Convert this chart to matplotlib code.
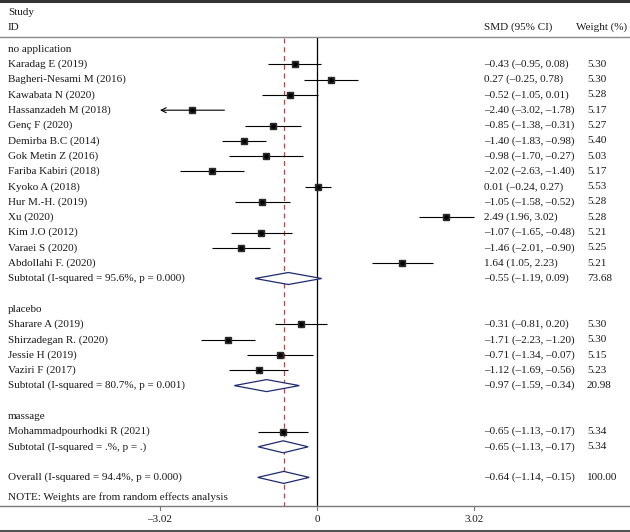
import matplotlib
matplotlib.use("Agg")
import matplotlib.pyplot as plt
from matplotlib.patches import Polygon

plt.rcParams['font.family'] = ['Liberation Serif', 'DejaVu Serif']

# ---------------- data ----------------
groups = ["no application", "placebo", "massage"]

studies_noapp = ["Karadag E (2019)", "Bagheri-Nesami M (2016)", "Kawabata N (2020)",
                 "Hassanzadeh M (2018)", "Genç F (2020)", "Demirba B.C (2014)",
                 "Gok Metin Z (2016)", "Fariba Kabiri (2018)", "Kyoko A (2018)",
                 "Hur M.-H. (2019)", "Xu (2020)", "Kim J.O (2012)", "Varaei S (2020)",
                 "Abdollahi F. (2020)"]
est_noapp = [-0.43, 0.27, -0.52, -2.40, -0.85, -1.40, -0.98, -2.02, 0.01, -1.05, 2.49, -1.07, -1.46, 1.64]
lo_noapp = [-0.95, -0.25, -1.05, -3.02, -1.38, -1.83, -1.70, -2.63, -0.24, -1.58, 1.96, -1.65, -2.01, 1.05]
hi_noapp = [0.08, 0.78, 0.01, -1.78, -0.31, -0.98, -0.27, -1.40, 0.27, -0.52, 3.02, -0.48, -0.90, 2.23]
w_noapp = [5.30, 5.30, 5.28, 5.17, 5.27, 5.40, 5.03, 5.17, 5.53, 5.28, 5.28, 5.21, 5.25, 5.21]

studies_placebo = ["Sharare A (2019)", "Shirzadegan R. (2020)", "Jessie H (2019)", "Vaziri F (2017)"]
est_placebo = [-0.31, -1.71, -0.71, -1.12]
lo_placebo = [-0.81, -2.23, -1.34, -1.69]
hi_placebo = [0.20, -1.20, -0.07, -0.56]
w_placebo = [5.30, 5.30, 5.15, 5.23]

studies_massage = ["Mohammadpourhodki R (2021)"]
est_massage = [-0.65]
lo_massage = [-1.13]
hi_massage = [-0.17]
w_massage = [5.34]

sub_labels = ["Subtotal (I-squared = 95.6%, p = 0.000)",
              "Subtotal (I-squared = 80.7%, p = 0.001)",
              "Subtotal (I-squared = .%, p = .)"]
sub_est = [-0.55, -0.97, -0.65]
sub_lo = [-1.19, -1.59, -1.13]
sub_hi = [0.09, -0.34, -0.17]
sub_w = [73.68, 20.98, 5.34]

overall_label = "Overall (I-squared = 94.4%, p = 0.000)"
overall_est, overall_lo, overall_hi, overall_w = -0.64, -1.14, -0.15, 100.00

note = "NOTE: Weights are from random effects analysis"
ticks = [-3.02, 0, 3.02]

# ---------------- layout ----------------
W, H = 630, 532
X0, PPU = 317, 52.0
fig = plt.figure(figsize=(W / 100, H / 100), dpi=100)
ax = fig.add_axes([0, 0, 1, 1])
ax.set_xlim(-X0 / PPU, (W - X0) / PPU)
ax.set_ylim(H, 0)
ax.axis('off')


def px(xp):
    return (xp - X0) / PPU


TXT = '#1a1a1a'
FS = 8.0
LEFT, SMDX, WX = px(8), px(484), px(587)
ROW0, DY = 49, 15.3


def fmt(v):
    s = f"{abs(v):.2f}"
    return ("–" + s) if v < 0 else s


def ci_text(e, l, h):
    return f"{fmt(e)} ({fmt(l)}, {fmt(h)})"


def rowy(k):
    return ROW0 + DY * k


# header
ax.text(LEFT, 12.5, "Study", fontsize=FS, color=TXT, va='center')
ax.text(LEFT, 27.5, "ID", fontsize=FS, color=TXT, va='center')
ax.text(SMDX, 27.5, "SMD (95% CI)", fontsize=FS, color=TXT, va='center')
ax.text(px(576), 27.5, "Weight (%)", fontsize=FS, color=TXT, va='center')
ax.axhline(1, color='#333333', lw=2.2)
ax.axhline(37, color='#8a8a8a', lw=1.0)
ax.axhline(506, color='#7a7a7a', lw=1.0)
ax.axhline(530.5, color='#555555', lw=2.2)

DIA = '#1f2b6e'


def study_row(y, name, e, l, h, w):
    ax.text(LEFT, y, name, fontsize=FS, color=TXT, va='center')
    if l <= ticks[0]:
        ax.annotate('', xy=(ticks[0], y), xytext=(h, y),
                    arrowprops=dict(arrowstyle='->', lw=0.8, color='black',
                                    mutation_scale=9, shrinkA=0, shrinkB=0))
    else:
        ax.plot([l, h], [y, y], color='black', lw=0.8, solid_capstyle='butt')
    ax.plot([e], [y], marker='s', ms=4.8 * (w / 5.3) ** 0.5, color='#2a2a2a', mec='#2a2a2a')
    ax.plot([e], [y], marker='o', ms=2.2, color='black')
    ax.text(SMDX, y, ci_text(e, l, h), fontsize=FS, color=TXT, va='center')
    ax.text(WX, y, f"{w:.2f}", fontsize=FS, color=TXT, va='center')


def diamond_row(y, name, e, l, h, w):
    ax.text(LEFT, y, name, fontsize=FS, color=TXT, va='center')
    ax.add_patch(Polygon([(l, y), (e, y - 6), (h, y), (e, y + 6)], closed=True,
                         facecolor='white', edgecolor=DIA, lw=0.9, zorder=3))
    ax.text(SMDX, y, ci_text(e, l, h), fontsize=FS, color=TXT, va='center')
    ax.text(WX, y, f"{w:.2f}", fontsize=FS, color=TXT, va='center')


# vertical reference lines
ax.plot([0, 0], [38, 506], color='black', lw=0.9, zorder=1)
ax.plot([overall_est, overall_est], [38, 506], color='#a3504a', lw=0.9,
        ls=(0, (4, 3)), zorder=1)

all_groups = [
    (studies_noapp, est_noapp, lo_noapp, hi_noapp, w_noapp),
    (studies_placebo, est_placebo, lo_placebo, hi_placebo, w_placebo),
    (studies_massage, est_massage, lo_massage, hi_massage, w_massage),
]

k = 0
for gi, (names, es, ls, hs, ws) in enumerate(all_groups):
    ax.text(LEFT, rowy(k), groups[gi], fontsize=FS, color=TXT, va='center')
    k += 1
    for n, e, l, h, w in zip(names, es, ls, hs, ws):
        study_row(rowy(k), n, e, l, h, w)
        k += 1
    diamond_row(rowy(k), sub_labels[gi], sub_est[gi], sub_lo[gi], sub_hi[gi], sub_w[gi])
    k += 2

diamond_row(rowy(k), overall_label, overall_est, overall_lo, overall_hi, overall_w)
ax.text(LEFT, rowy(k) + 19.5, note, fontsize=FS, color=TXT, va='center')

for t in ticks:
    ax.plot([t, t], [506, 510], color='#7a7a7a', lw=0.8)
    lab = "0" if t == 0 else fmt(t)
    ax.text(t, 520, lab, fontsize=FS, color=TXT, va='center', ha='center')

fig.savefig("out.png", dpi=100)
